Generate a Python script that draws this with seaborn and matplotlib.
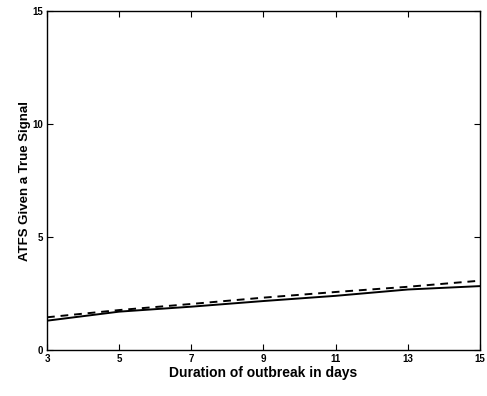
import matplotlib
matplotlib.use("Agg")
import matplotlib.pyplot as plt
import seaborn as sns
import pandas as pd

days = [3, 5, 7, 9, 11, 13, 15]
atfs_solid = [1.30, 1.70, 1.92, 2.17, 2.40, 2.68, 2.83]
atfs_dashed = [1.45, 1.77, 2.04, 2.32, 2.57, 2.80, 3.07]
xticks = [3, 5, 7, 9, 11, 13, 15]
yticks = [0, 5, 10, 15]

sns.set_style("white")
plt.rcParams['font.family'] = ['Liberation Sans', 'DejaVu Sans']
plt.rcParams['text.color'] = 'black'
plt.rcParams['axes.labelcolor'] = 'black'

fig = plt.figure(figsize=(4.87, 3.96), dpi=100)
ax = fig.add_axes([0.0965, 0.116, 0.889, 0.856])

df = pd.DataFrame({"days": days, "solid": atfs_solid, "dashed": atfs_dashed})
sns.lineplot(data=df, x="days", y="solid", ax=ax, color="black", linewidth=1.4)
sns.lineplot(data=df, x="days", y="dashed", ax=ax, color="black", linewidth=1.4,
             linestyle=(0, (4, 3)))

ax.set_xlim(3, 15)
ax.set_ylim(0, 15)
ax.set_xticks(xticks)
ax.set_yticks(yticks)
ax.set_xticklabels([str(t) for t in xticks], fontsize=7, fontweight="bold")
ax.set_yticklabels([str(t) for t in yticks], fontsize=7, fontweight="bold")
ax.tick_params(direction="in", length=4, width=0.8, top=True, right=True,
               bottom=True, left=True, pad=3, colors="black")
for s in ax.spines.values():
    s.set_visible(True)
    s.set_color("black")
    s.set_linewidth(1.0)
ax.set_xlabel("Duration of outbreak in days", fontsize=10, fontweight="bold",
              labelpad=1, color="black")
ax.set_ylabel("ATFS Given a True Signal", fontsize=9.5, fontweight="bold",
              labelpad=1, color="black")

fig.savefig("out.png", dpi=100)
